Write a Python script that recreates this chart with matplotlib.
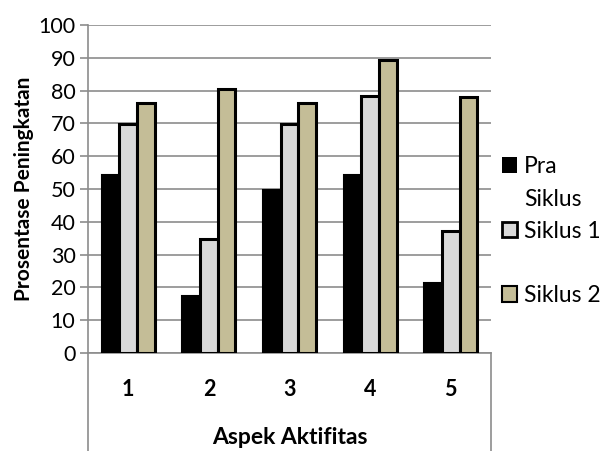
import matplotlib
matplotlib.use("Agg")
import matplotlib.pyplot as plt
import numpy as np
from matplotlib.lines import Line2D
from matplotlib.patches import Patch

categories = ["1", "2", "3", "4", "5"]
pra = [54.2, 17.3, 49.8, 54.2, 21.4]
siklus1 = [69.8, 34.9, 69.8, 78.4, 37.1]
siklus2 = [76.1, 80.6, 76.1, 89.3, 78.1]
series_names = ["Pra Siklus", "Siklus 1", "Siklus 2"]
yticks = [0, 10, 20, 30, 40, 50, 60, 70, 80, 90, 100]

plt.rcParams['font.family'] = ['Lato', 'DejaVu Sans']

W, H = 605, 451
fig = plt.figure(figsize=(W / 100, H / 100), dpi=100)
L, R, B, T = 88, 491, 353, 25
ax = fig.add_axes([L / W, 1 - B / H, (R - L) / W, (B - T) / H])

x = np.arange(len(categories))
bw = 0.22
ax.bar(x - bw, pra, bw, color="black", edgecolor="black", linewidth=1.5, zorder=3)
ax.bar(x, siklus1, bw, color="#D9D9D9", edgecolor="black", linewidth=2.2, zorder=3)
ax.bar(x + bw, siklus2, bw, color="#C4BD97", edgecolor="black", linewidth=2.2, zorder=3)

ax.set_xlim(-0.5, len(categories) - 0.5)
ax.set_ylim(0, 100)
ax.set_yticks(yticks)
ax.set_yticklabels([str(v) for v in yticks], fontsize=15.5)
ax.yaxis.grid(True, color="#8C8C8C", linewidth=1.2, zorder=0)
ax.set_axisbelow(True)
ax.tick_params(axis="y", length=6, color="#8C8C8C", width=1.2, pad=3)
ax.set_xticks(x)
ax.set_xticklabels(categories, fontsize=15.5, fontweight="bold")
ax.tick_params(axis="x", length=0, pad=19)
for s in ["top", "right", "left"]:
    ax.spines[s].set_visible(False)
ax.spines["bottom"].set_color("#8C8C8C")
ax.spines["bottom"].set_linewidth(1.2)

ax.set_ylabel("Prosentase Peningkatan", fontsize=15, fontweight="bold", labelpad=3)
fig.text((L + R) / 2 / W, 1 - 437 / H, "Aspek Aktifitas", fontsize=16.5,
         fontweight="bold", ha="center", va="center")

# category axis frame lines
fig.add_artist(Line2D([L / W, L / W], [0, 1 - T / H], transform=fig.transFigure,
                      color="#8C8C8C", linewidth=1.2))
fig.add_artist(Line2D([R / W, R / W], [0, 1 - B / H], transform=fig.transFigure,
                      color="#8C8C8C", linewidth=1.2))

handles = [Patch(facecolor="black", edgecolor="black", linewidth=0),
           Patch(facecolor="#D9D9D9", edgecolor="black", linewidth=2),
           Patch(facecolor="#C4BD97", edgecolor="black", linewidth=1.5)]
leg = fig.legend(handles, ["Pra", series_names[1], series_names[2]],
                 loc="upper left", bbox_to_anchor=(502 / W, 1 - 156 / H),
                 frameon=False, fontsize=16.5, handlelength=0.65, handleheight=0.65,
                 handletextpad=0.3, labelspacing=1.9, borderpad=0, borderaxespad=0)

fig.canvas.draw()
r = fig.canvas.get_renderer()
bb = leg.get_texts()[0].get_window_extent(r)
fig.text(bb.x0 / W, (bb.y0 - 33) / H, "Siklus", fontsize=16.5, ha="left", va="bottom")

fig.savefig("out.png", dpi=100)
